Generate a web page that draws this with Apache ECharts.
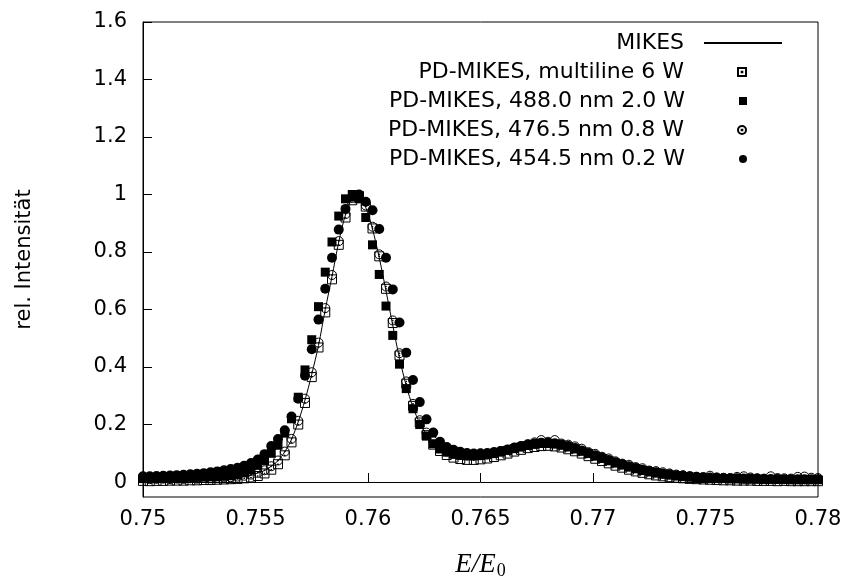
<!DOCTYPE html>
<html>
<head>
<meta charset="utf-8">
<script src="https://cdn.jsdelivr.net/npm/echarts@6/dist/echarts.min.js"></script>
<style>html,body{margin:0;padding:0;background:#fff;}#c{width:847px;height:585px;}</style>
</head>
<body>
<div id="c"></div>
<script>
// Energy axis E/E0 (sampling grid of the data)
const E = [0.7500,0.7503,0.7506,0.7509,0.7512,0.7515,0.7518,0.7521,0.7524,0.7527,
  0.7530,0.7533,0.7536,0.7539,0.7542,0.7545,0.7548,0.7551,0.7554,0.7557,
  0.7560,0.7563,0.7566,0.7569,0.7572,0.7575,0.7578,0.7581,0.7584,0.7587,
  0.7590,0.7593,0.7596,0.7599,0.7602,0.7605,0.7608,0.7611,0.7614,0.7617,
  0.7620,0.7623,0.7626,0.7629,0.7632,0.7635,0.7638,0.7641,0.7644,0.7647,
  0.7650,0.7653,0.7656,0.7659,0.7662,0.7665,0.7668,0.7671,0.7674,0.7677,
  0.7680,0.7683,0.7686,0.7689,0.7692,0.7695,0.7698,0.7701,0.7704,0.7707,
  0.7710,0.7713,0.7716,0.7719,0.7722,0.7725,0.7728,0.7731,0.7734,0.7737,
  0.7740,0.7743,0.7746,0.7749,0.7752,0.7755,0.7758,0.7761,0.7764,0.7767,
  0.7770,0.7773,0.7776,0.7779,0.7782,0.7785,0.7788,0.7791,0.7794,0.7797,0.7800];

// MIKES reference spectrum (line)
const mikes = [0.008,0.008,0.009,0.009,0.010,0.010,0.011,0.011,0.012,0.012,
  0.013,0.014,0.015,0.016,0.018,0.020,0.023,0.032,0.040,0.055,
  0.074,0.105,0.148,0.210,0.285,0.375,0.475,0.600,0.715,0.835,
  0.930,0.985,0.995,0.955,0.880,0.780,0.665,0.545,0.430,0.335,
  0.260,0.205,0.165,0.135,0.115,0.100,0.092,0.087,0.085,0.085,
  0.087,0.090,0.095,0.100,0.106,0.112,0.118,0.123,0.127,0.130,
  0.130,0.128,0.124,0.118,0.111,0.103,0.095,0.086,0.078,0.070,
  0.062,0.055,0.048,0.042,0.037,0.032,0.028,0.025,0.022,0.019,
  0.017,0.015,0.014,0.013,0.012,0.011,0.010,0.010,0.009,0.009,
  0.008,0.008,0.008,0.007,0.007,0.007,0.007,0.006,0.006,0.006,0.006];

// PD-MIKES, multiline 6 W (open squares)
const multiline6W = [0.004,0.003,0.004,0.004,0.005,0.005,0.005,0.006,0.006,0.007,
  0.007,0.008,0.009,0.010,0.011,0.013,0.016,0.021,0.030,0.043,
  0.062,0.093,0.138,0.200,0.275,0.365,0.468,0.590,0.705,0.825,
  0.920,0.980,0.995,0.958,0.882,0.785,0.672,0.553,0.440,0.342,
  0.265,0.207,0.163,0.130,0.108,0.094,0.085,0.080,0.077,0.077,
  0.079,0.082,0.087,0.093,0.099,0.106,0.112,0.118,0.122,0.125,
  0.126,0.124,0.120,0.114,0.107,0.099,0.090,0.081,0.073,0.065,
  0.057,0.050,0.043,0.037,0.032,0.027,0.023,0.020,0.017,0.015,
  0.013,0.011,0.010,0.009,0.008,0.007,0.006,0.006,0.005,0.005,
  0.005,0.004,0.004,0.004,0.003,0.004,0.003,0.003,0.003,0.003,0.003];

// PD-MIKES, 488.0 nm 2.0 W (filled squares)
const nm488 = [0.012,0.012,0.013,0.013,0.014,0.014,0.015,0.016,0.016,0.017,
  0.018,0.019,0.020,0.022,0.025,0.032,0.042,0.058,0.075,0.100,
  0.128,0.170,0.220,0.295,0.390,0.495,0.610,0.730,0.835,0.925,
  0.985,1.000,0.985,0.920,0.825,0.722,0.612,0.510,0.410,0.325,
  0.255,0.200,0.160,0.133,0.115,0.104,0.097,0.093,0.091,0.091,
  0.092,0.095,0.099,0.104,0.110,0.116,0.122,0.127,0.131,0.134,
  0.134,0.132,0.128,0.122,0.115,0.107,0.099,0.090,0.082,0.074,
  0.066,0.059,0.052,0.046,0.040,0.035,0.031,0.027,0.024,0.021,
  0.019,0.017,0.016,0.014,0.013,0.012,0.012,0.011,0.011,0.010,
  0.010,0.010,0.009,0.009,0.009,0.009,0.008,0.008,0.008,0.008,0.008];

// PD-MIKES, 476.5 nm 0.8 W (open circles)
const nm476 = [0.014,0.010,0.011,0.012,0.010,0.012,0.011,0.013,0.012,0.014,
  0.013,0.015,0.016,0.017,0.019,0.022,0.026,0.032,0.041,0.055,
  0.075,0.106,0.150,0.213,0.290,0.382,0.485,0.605,0.720,0.838,
  0.932,0.988,0.998,0.962,0.888,0.792,0.680,0.562,0.448,0.350,
  0.272,0.215,0.172,0.142,0.120,0.106,0.098,0.094,0.096,0.092,
  0.100,0.096,0.104,0.108,0.112,0.120,0.124,0.132,0.138,0.146,
  0.140,0.146,0.134,0.130,0.124,0.116,0.104,0.098,0.088,0.082,
  0.072,0.064,0.060,0.052,0.048,0.040,0.038,0.034,0.030,0.026,
  0.024,0.020,0.018,0.017,0.022,0.016,0.015,0.014,0.018,0.020,
  0.016,0.013,0.012,0.020,0.014,0.013,0.012,0.018,0.019,0.015,0.014];

// PD-MIKES, 454.5 nm 0.2 W (filled circles)
const nm454 = [0.020,0.020,0.021,0.022,0.023,0.024,0.025,0.027,0.029,0.031,
  0.034,0.037,0.041,0.045,0.050,0.057,0.066,0.078,0.097,0.125,
  0.150,0.180,0.228,0.290,0.370,0.462,0.565,0.672,0.780,0.878,
  0.950,0.992,1.000,0.975,0.945,0.880,0.780,0.670,0.555,0.450,
  0.355,0.278,0.218,0.172,0.140,0.122,0.112,0.105,0.101,0.099,
  0.099,0.101,0.104,0.108,0.113,0.119,0.125,0.130,0.134,0.137,
  0.137,0.135,0.131,0.125,0.118,0.110,0.101,0.093,0.085,0.077,
  0.069,0.062,0.055,0.049,0.043,0.038,0.034,0.030,0.027,0.024,
  0.022,0.020,0.018,0.017,0.016,0.015,0.014,0.013,0.013,0.012,
  0.012,0.012,0.011,0.011,0.011,0.010,0.010,0.010,0.010,0.010,0.010];

const yTicks = [0, 0.2, 0.4, 0.6, 0.8, 1, 1.2, 1.4, 1.6];
const names = ['MIKES', 'PD-MIKES, multiline 6 W', 'PD-MIKES, 488.0 nm 2.0 W',
               'PD-MIKES, 476.5 nm 0.8 W', 'PD-MIKES, 454.5 nm 0.2 W'];

const pairs = ys => E.map((e, i) => [e, ys[i]]);
const FONT = 'DejaVu Sans';
const FS = 21;
const sqDot = 'path://M0,0H10V10H0Z M4.6,4.6H5.4V5.4H4.6Z';
const ciDot = 'path://M0,5A5,5,0,1,1,10,5A5,5,0,1,1,0,5Z M4.6,4.6H5.4V5.4H4.6Z';
const clear = 'rgba(255,255,255,0)';

const chart = echarts.init(document.getElementById('c'), null, {renderer: 'canvas'});

const rowY = [43, 72, 101, 130, 159];
function legendFor(i, itemW, itemH, right, padR) {
  return {
    data: [names[i]], orient: 'vertical', align: 'right',
    right: right, top: rowY[i] - 12, padding: 0, itemGap: 0,
    itemWidth: itemW, itemHeight: itemH, selectedMode: false,
    textStyle: {fontFamily: FONT, fontSize: 22, color: '#000', lineHeight: 24, padding: [0, padR, 0, 0]}
  };
}

chart.setOption({
  animation: false,
  backgroundColor: '#fff',
  grid: {left: 143, right: 29, top: 22, bottom: 88, show: true, borderColor: '#000', borderWidth: 1, containLabel: false},
  legend: [
    legendFor(0, 78, 1, 64, 15),
    legendFor(1, 8, 8, 100, 49),
    legendFor(2, 8, 8, 100, 49),
    legendFor(3, 8, 8, 100, 49),
    legendFor(4, 8, 8, 100, 49)
  ],
  xAxis: {
    type: 'value', min: 0.75, max: 0.78, interval: 0.005,
    axisLine: {lineStyle: {color: '#000', width: 1}},
    axisTick: {inside: true, length: 9, lineStyle: {color: '#000'}},
    splitLine: {show: false},
    axisLabel: {fontFamily: FONT, fontSize: FS, color: '#000', margin: 12, showMinLabel: true, showMaxLabel: true},
    name: '{i|E}{i|/}{i|E}{s|0}', nameLocation: 'middle', nameGap: 52,
    nameTextStyle: {
      rich: {
        i: {fontFamily: 'Liberation Serif', fontStyle: 'italic', fontSize: 27, color: '#000'},
        s: {fontFamily: 'Liberation Serif', fontSize: 18, color: '#000', padding: [13, 0, 0, 1]}
      }
    }
  },
  yAxis: {
    type: 'value', min: -0.052, max: 1.6,
    axisLine: {lineStyle: {color: '#000', width: 1}},
    axisTick: {inside: true, length: 9, lineStyle: {color: '#000'}, customValues: yTicks},
    splitLine: {show: false},
    axisLabel: {fontFamily: FONT, fontSize: FS, color: '#000', margin: 16, customValues: yTicks},
    name: 'rel. Intensität', nameLocation: 'middle', nameGap: 108, nameRotate: 90,
    nameTextStyle: {fontFamily: FONT, fontSize: FS, color: '#000'}
  },
  series: [
    {name: names[0], type: 'line', data: pairs(mikes), symbol: 'none', smooth: 0.3, silent: true,
     lineStyle: {color: '#000', width: 1}, itemStyle: {color: '#000'}, z: 2},
    {name: names[1], type: 'scatter', data: pairs(multiline6W), symbol: sqDot, symbolSize: 9, silent: true,
     itemStyle: {color: clear, borderColor: '#000', borderWidth: 1, opacity: 1}, z: 3},
    {name: names[2], type: 'scatter', data: pairs(nm488), symbol: 'rect', symbolSize: 9, silent: true,
     itemStyle: {color: '#000', opacity: 1}, z: 3},
    {name: names[3], type: 'scatter', data: pairs(nm476), symbol: ciDot, symbolSize: 9, silent: true,
     itemStyle: {color: clear, borderColor: '#000', borderWidth: 1, opacity: 1}, z: 3},
    {name: names[4], type: 'scatter', data: pairs(nm454), symbol: 'circle', symbolSize: 10, silent: true,
     itemStyle: {color: '#000', opacity: 1}, z: 3}
  ]
});
</script>
</body>
</html>
